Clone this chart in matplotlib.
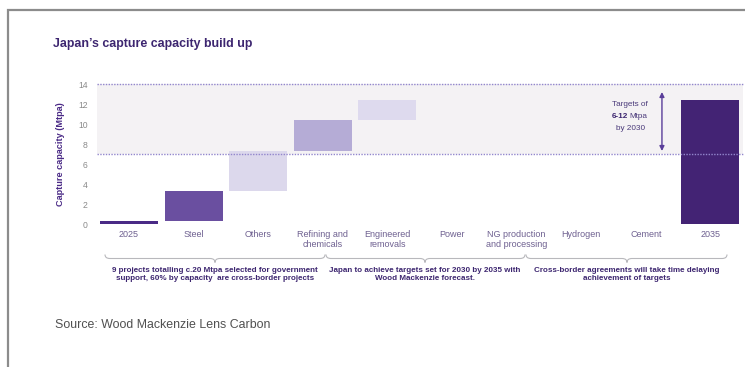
import matplotlib
matplotlib.use("Agg")
import matplotlib.pyplot as plt
from matplotlib.path import Path
from matplotlib.patches import PathPatch

plt.rcParams['font.family'] = ['Liberation Sans', 'DejaVu Sans']

# Capture capacity build-up (Mtpa)
categories = ["2025", "Steel", "Others", "Refining and\nchemicals", "Engineered\nremovals",
              "Power", "NG production\nand processing", "Hydrogen", "Cement", "2035"]
start_value = 0.3          # 2025 installed capacity
increments = [3.0, 4.0, 3.1, 2.0, 0.0, 0.0, 0.0, 0.0]   # Steel .. Cement
end_value = 12.4           # 2035 total
target_low, target_high = 7, 14
arrow_range = (7.3, 13.2)
y_ticks = [0, 2, 4, 6, 8, 10, 12, 14]

notes = ["9 projects totalling c.20 Mtpa selected for government\nsupport, 60% by capacity  are cross-border projects",
         "Japan to achieve targets set for 2030 by 2035 with\nWood Mackenzie forecast.",
         "Cross-border agreements will take time delaying\nachievement of targets"]

colors = ["#4a2a86", "#6a4fa0", "#dcd8ec", "#b5acd6", "#dedaee",
          "#dedaee", "#dedaee", "#dedaee", "#dedaee", "#432374"]
PURPLE = "#3d2670"
LABEL = "#6e6090"

W, H = 745, 367
fig = plt.figure(figsize=(W / 100, H / 100), dpi=100)
fig.patch.set_facecolor("white")

# main chart area
ax_left, ax_right, ax_top, ax_bottom = 96.7, 742.7, 84, 224
ax = fig.add_axes([ax_left / W, 1 - ax_bottom / H, (ax_right - ax_left) / W, (ax_bottom - ax_top) / H])
ax.set_xlim(-0.5, len(categories) - 0.5)
ax.set_ylim(0, 14)

# target band
ax.axhspan(target_low, target_high, color="#f4f2f4", zorder=0, lw=0)

# waterfall bars
bottoms, heights = [0.0], [start_value]
level = start_value
for inc in increments:
    bottoms.append(level)
    heights.append(inc)
    level += inc
bottoms.append(0.0)
heights.append(end_value)
ax.bar(range(len(categories)), heights, bottom=bottoms, width=0.9, color=colors, zorder=2)

for yv in (target_low, target_high):
    ax.axhline(yv, color="#9286cc", lw=1.0, ls=(0, (1, 1)), zorder=3, clip_on=False)

# target arrow and label
ax.annotate("", xy=(8.25, arrow_range[1]), xytext=(8.25, arrow_range[0]),
            arrowprops=dict(arrowstyle="<|-|>", color="#5a3e9a", lw=1.0,
                            mutation_scale=7, shrinkA=0, shrinkB=0), zorder=4)
ax.text(7.76, 11.9, "Targets of", ha="center", va="center", fontsize=5.9, color="#4a3a7a")
ax.text(7.72, 10.75, "6-12", ha="right", va="center", fontsize=5.9, color="#3d2670", fontweight="bold")
ax.text(7.745, 10.75, "Mtpa", ha="left", va="center", fontsize=5.9, color="#4a3a7a")
ax.text(7.76, 9.6, "by 2030", ha="center", va="center", fontsize=5.9, color="#4a3a7a")

ax.set_xticks(range(len(categories)))
ax.set_xticklabels(categories, fontsize=6.5, color=LABEL, linespacing=1.1, va="top")
ax.set_yticks(y_ticks)
ax.set_yticklabels([str(t) for t in y_ticks], fontsize=6.2, color="#8a8a8a")
ax.tick_params(axis="both", length=0)
ax.tick_params(axis="x", pad=4.5)
ax.tick_params(axis="y", pad=6.5)
for s in ax.spines.values():
    s.set_visible(False)
ax.set_ylabel("Capture capacity (Mtpa)", fontsize=6.6, fontweight="bold", color="#4a2a86")
ax.yaxis.set_label_coords(-0.049, 0.5)

# overlay in pixel coordinates for frame, title, braces and notes
ov = fig.add_axes([0, 0, 1, 1], zorder=-1)
ov.set_xlim(0, W)
ov.set_ylim(H, 0)
ov.axis("off")
ov.plot([8, 8, W], [H, 10, 10], color="#8c8c8c", lw=1.6, solid_joinstyle="miter")

fig.text(53 / W, 1 - 44 / H, "Japan\u2019s capture capacity build up", fontsize=8.9,
         fontweight="bold", color=PURPLE, va="center", ha="left")
fig.text(55 / W, 1 - 325 / H, "Source: Wood Mackenzie Lens Carbon", fontsize=8.9,
         color="#505050", va="center", ha="left")


def brace(x0, x1, xm, y0=254.5, y1=258.5, y2=262.5, r=5):
    verts = [(x0, y0), (x0, y1), (x0 + r, y1), (xm - r, y1), (xm, y1), (xm, y2),
             (xm, y1), (xm + r, y1), (x1 - r, y1), (x1, y1), (x1, y0)]
    codes = [Path.MOVETO, Path.CURVE3, Path.CURVE3, Path.LINETO, Path.CURVE3, Path.CURVE3,
             Path.CURVE3, Path.CURVE3, Path.LINETO, Path.CURVE3, Path.CURVE3]
    ov.add_patch(PathPatch(Path(verts, codes), fill=False, ec="#b8b8bc", lw=0.8))


spans = [(105, 325, 215), (326, 525, 425), (526, 727, 627)]
for (x0, x1, xm), note in zip(spans, notes):
    brace(x0, x1, xm)
    ov.text(xm, 274.5, note, ha="center", va="center", fontsize=5.8, fontweight="bold",
            color=PURPLE, linespacing=1.2)

fig.savefig("out.png", dpi=100, facecolor="white")
